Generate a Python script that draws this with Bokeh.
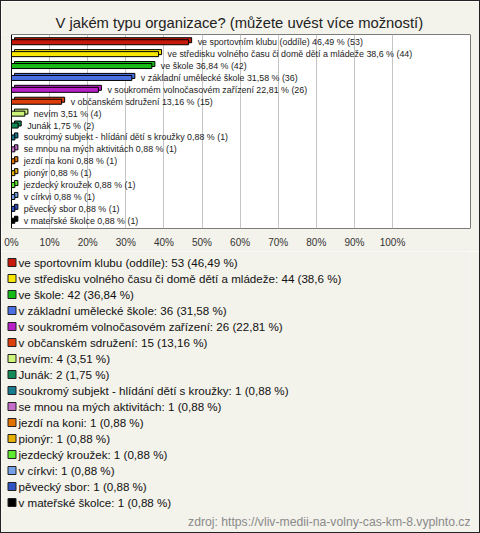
from bokeh.plotting import figure
from bokeh.layouts import column
from bokeh.models import ColumnDataSource, Range1d, FixedTicker, Label, BoxAnnotation
from bokeh.embed import file_html
from bokeh.resources import INLINE
from bokeh.core.properties import value

TITLE = "V jakém typu organizace? (můžete uvést více možností)"
SOURCE = "zdroj: https://vliv-medii-na-volny-cas-km-8.vyplnto.cz"

categories = [
    "ve sportovním klubu (oddíle)",
    "ve středisku volného času či domě dětí a mládeže",
    "ve škole",
    "v základní umělecké škole",
    "v soukromém volnočasovém zařízení",
    "v občanském sdružení",
    "nevím",
    "Junák",
    "soukromý subjekt - hlídání dětí s kroužky",
    "se mnou na mých aktivitách",
    "jezdí na koni",
    "pionýr",
    "jezdecký kroužek",
    "v církvi",
    "pěvecký sbor",
    "v mateřské školce",
]
counts = [53, 44, 42, 36, 26, 15, 4, 2, 1, 1, 1, 1, 1, 1, 1, 1]
percents = [46.49, 38.6, 36.84, 31.58, 22.81, 13.16, 3.51, 1.75,
            0.88, 0.88, 0.88, 0.88, 0.88, 0.88, 0.88, 0.88]
colors = ["#c8180a", "#f7e600", "#16bb16", "#4a6fe3", "#b81fc6", "#de3e0c",
          "#ccf57a", "#138a55", "#187a8e", "#c46ccb", "#e27200", "#e6b000",
          "#5eea2e", "#73a0e6", "#2f52c4", "#000000"]
x_ticks = [0, 10, 20, 30, 40, 50, 60, 70, 80, 90, 100]

FONT = "Liberation Sans"
BG = "#f3f2eb"
W = 478
DEPTH_X = 0.79    # 3D depth of bars (x, in % units)
DEPTH_Y = 0.17    # 3D depth of bars (y, in row units)
BAR_H = 0.42
SWATCH_X = 10.5   # legend swatch centre (legend panel pixels)
LABEL_X = 17      # legend label start (legend panel pixels)


def fmt(v):
    s = f"{v:.2f}".rstrip("0").rstrip(".")
    return s.replace(".", ",")


idx = list(range(len(categories)))
src = ColumnDataSource(dict(
    idx=idx,
    idx_back=[i - DEPTH_Y for i in idx],
    pct=percents,
    pct_back=[v + DEPTH_X for v in percents],
    color=colors,
    bar_label=[f"{c} {fmt(v)} % ({n})" for c, v, n in zip(categories, percents, counts)],
    legend_label=[f"{c}: {n} ({fmt(v)} %)" for c, n, v in zip(categories, counts, percents)],
))

# ---------------- bar chart ----------------
p = figure(width=W, height=250,
           x_range=Range1d(-2.625, 120.47), y_range=Range1d(15.65, -0.65),
           output_backend="svg", toolbar_location=None, y_axis_location=None,
           min_border_left=0, min_border_right=9, min_border_top=33, min_border_bottom=23,
           background_fill_color=BG, border_fill_color=BG,
           outline_line_color=None, title=TITLE)

# white plotting box starting at 0 %
p.add_layout(BoxAnnotation(left=0, fill_color="white", fill_alpha=1,
                           line_color="black", line_width=1, line_alpha=1, level="image"))

p.title.align = "left"
p.title.offset = 54
p.title.text_font = FONT
p.title.text_font_size = "14.8px"
p.title.text_font_style = "normal"
p.title.text_color = "#222222"
p.title.standoff = 8

p.xgrid.ticker = FixedTicker(ticks=x_ticks[1:])
p.xgrid.grid_line_color = "#c4c4c4"
p.ygrid.visible = False

p.xaxis.ticker = FixedTicker(ticks=x_ticks)
p.xaxis.major_label_overrides = {t: f"{t}%" for t in x_ticks}
p.xaxis.major_label_text_font = FONT
p.xaxis.major_label_text_font_size = "10px"
p.xaxis.major_label_text_color = "#333333"
p.xaxis.axis_line_color = None
p.xaxis.major_tick_line_color = None
p.xaxis.minor_tick_line_color = None
p.xaxis.major_label_standoff = 2

p.hbar(y="idx_back", left=DEPTH_X, right="pct_back", height=BAR_H, source=src,
       fill_color="color", line_color="black", line_width=1)
p.hbar(y="idx", left=0, right="pct", height=BAR_H, source=src,
       fill_color="color", line_color="black", line_width=1)

p.text(x="pct", y="idx", text="bar_label", source=src, x_offset=9,
       text_baseline="middle", text_align="left",
       text_font=value(FONT), text_font_size="8.9px", text_color="#222222")

# ---------------- legend panel ----------------
p2 = figure(width=W, height=281,
            x_range=Range1d(0, 469), y_range=Range1d(16.875, -0.6875),
            output_backend="svg", toolbar_location=None,
            x_axis_location=None, y_axis_location=None,
            min_border_left=0, min_border_right=9, min_border_top=0, min_border_bottom=0,
            background_fill_color=BG, border_fill_color=BG,
            outline_line_color=None)
p2.grid.visible = False

p2.scatter(x=SWATCH_X, y="idx", marker="square", size=8, source=src,
           fill_color="color", line_color="#222222", line_width=1)
p2.text(x=LABEL_X, y="idx", text="legend_label", source=src,
        text_baseline="middle", text_align="left",
        text_font=value(FONT), text_font_size="11.6px", text_color="#111111")

p2.add_layout(Label(x=469, y=16.19, text=SOURCE, text_align="right", text_baseline="middle",
                    text_font=FONT, text_font_size="12.2px", text_color="#8a8a8a"))

layout = column(p, p2, spacing=0, styles={"border": "1px solid #222222"})

open("out.html", "w").write(file_html(layout, INLINE))
